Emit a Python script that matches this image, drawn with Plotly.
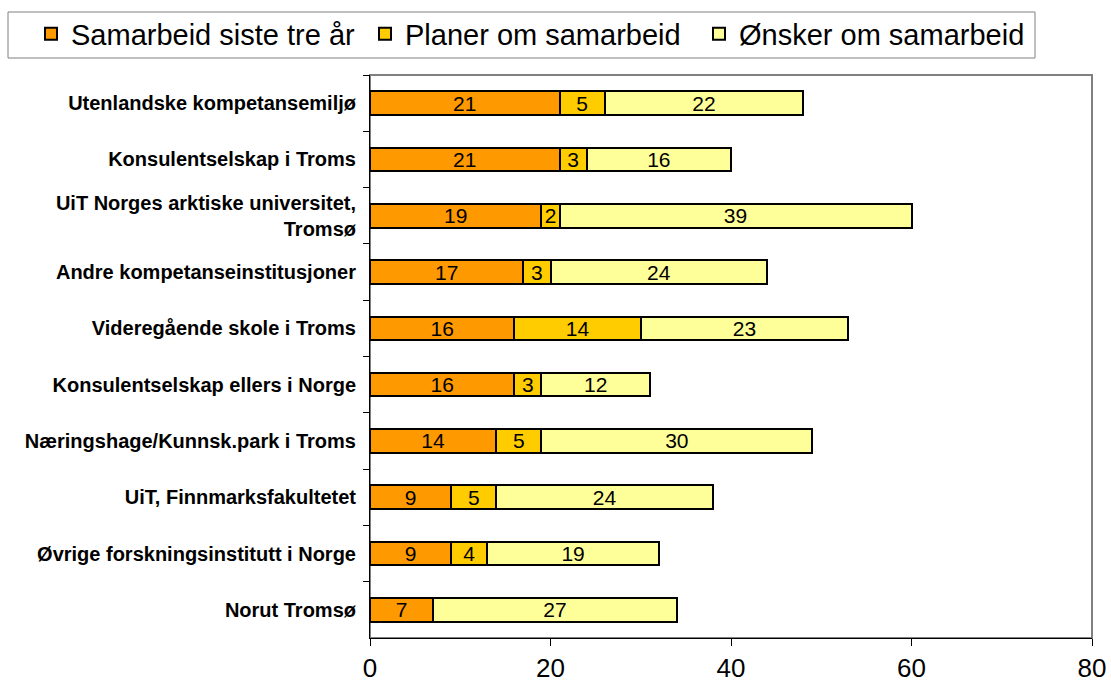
import plotly.graph_objects as go

categories = [
    "Utenlandske kompetansemiljø",
    "Konsulentselskap i Troms",
    "UiT Norges arktiske universitet,<br>Tromsø",
    "Andre kompetanseinstitusjoner",
    "Videregående skole i Troms",
    "Konsulentselskap ellers i Norge",
    "Næringshage/Kunnsk.park i Troms",
    "UiT, Finnmarksfakultetet",
    "Øvrige forskningsinstitutt i Norge",
    "Norut Tromsø",
]
samarbeid = [21, 21, 19, 17, 16, 16, 14, 9, 9, 7]
planer = [5, 3, 2, 3, 14, 3, 5, 5, 4, 0]
onsker = [22, 16, 39, 24, 23, 12, 30, 24, 19, 27]
series_names = ["Samarbeid siste tre år", "Planer om samarbeid", "Ønsker om samarbeid"]
colors = ["#FF9900", "#FFCC00", "#FFFF99"]
x_ticks = [0, 20, 40, 60, 80]

FONT = "Liberation Sans, Arial"

fig = go.Figure()
for name, vals, col in zip(series_names, [samarbeid, planer, onsker], colors):
    fig.add_trace(go.Bar(
        y=categories, x=vals, name=name, orientation="h",
        marker=dict(color=col, line=dict(color="black", width=2)),
        text=[str(v) if v else "" for v in vals],
        textposition="inside", insidetextanchor="middle", textangle=0,
        textfont=dict(family=FONT, size=21, color="black"),
        width=0.42,
    ))

W, H = 1111, 688
L, R, T, B = 370, 19, 75, 50
pw, ph = W - L - R, H - T - B


def px_x(p):  # pixel -> paper x
    return (p - L) / pw


def px_y(p):  # pixel -> paper y
    return (H - B - p) / ph


fig.update_layout(
    barmode="stack",
    width=W, height=H,
    margin=dict(l=L, r=R, t=T, b=B, autoexpand=False),
    paper_bgcolor="white", plot_bgcolor="white",
    font=dict(family=FONT, color="black"),
    uniformtext=dict(minsize=21, mode="show"),
    legend=dict(
        orientation="h", x=px_x(31), y=px_y(34), xanchor="left", yanchor="middle",
        font=dict(size=29, family=FONT),
        borderwidth=0, bgcolor="rgba(0,0,0,0)",
        traceorder="normal", entrywidth=289, entrywidthmode="pixels",
    ),
    xaxis=dict(
        range=[0, 80], tickvals=x_ticks, ticks="outside", ticklen=7,
        tickcolor="black", showline=True, linecolor="black", linewidth=1,
        showgrid=False, zeroline=False, automargin=False,
        tickfont=dict(size=26, family=FONT),
    ),
    yaxis=dict(
        autorange="reversed", ticks="outside", ticklen=6, tickson="boundaries",
        tickcolor="black", showline=True, linecolor="black", linewidth=1,
        showgrid=False, ticklabelstandoff=9, automargin=False,
        tickfont=dict(size=20, family=FONT, weight="bold"),
    ),
    shapes=[
        dict(type="rect", xref="paper", yref="paper", x0=0, x1=1, y0=0, y1=1,
             line=dict(color="#808080", width=2), layer="below"),
        dict(type="rect", xref="paper", yref="paper",
             x0=px_x(8), x1=px_x(1035), y0=px_y(58), y1=px_y(12),
             line=dict(color="#808080", width=1), fillcolor="white", layer="below"),
    ],
)

fig.write_html(
    "out.html",
    config={"displayModeBar": False},
    post_script="document.body.style.margin='0';document.body.style.overflow='hidden';",
)
